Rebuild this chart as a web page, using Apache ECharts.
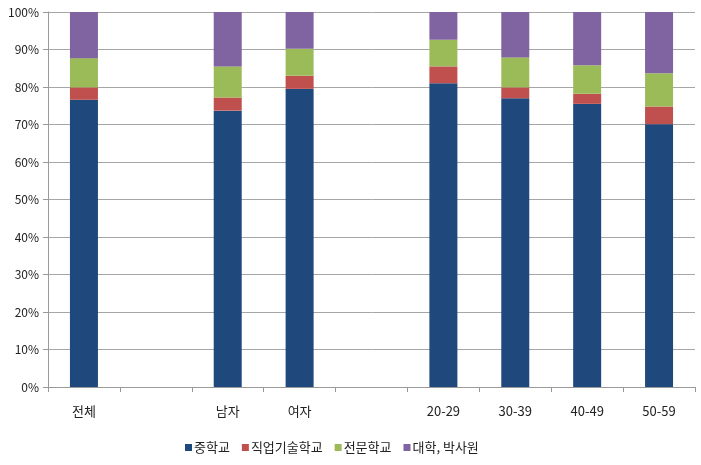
<!DOCTYPE html>
<html><head><meta charset="utf-8">
<script src="https://cdn.jsdelivr.net/npm/echarts@6/dist/echarts.min.js"></script>
<style>html,body{margin:0;padding:0;background:#fff}#c{width:701px;height:465px}</style>
</head><body><div id="c"></div>
<script>
const categories = ['전체', ' ', '남자', '여자', '  ', '20-29', '30-39', '40-49', '50-59'];
const seriesNames = ['중학교', '직업기술학교', '전문학교', '대학, 박사원'];
const middle = [76.6, null, 73.7, 79.5, null, 81.0, 77.0, 75.5, 70.1];
const vocational = [3.3, null, 3.5, 3.5, null, 4.5, 2.9, 2.7, 4.7];
const college = [7.8, null, 8.3, 7.2, null, 7.1, 8.0, 7.6, 8.9];
const university = [12.3, null, 14.5, 9.8, null, 7.4, 12.1, 14.2, 16.3];
const yTicks = [0, 10, 20, 30, 40, 50, 60, 70, 80, 90, 100];

const colors = ['#1F497D', '#C0504D', '#9BBB59', '#8064A2'];
const font = '"Noto Sans CJK KR", "Noto Sans", sans-serif';
const chart = echarts.init(document.getElementById('c'));
const values = [middle, vocational, college, university];
chart.setOption({
  animation: false,
  color: colors,
  textStyle: { fontFamily: font },
  grid: { left: 48, right: 6, top: 12, bottom: 78 },
  legend: {
    bottom: 6, left: 180, icon: 'rect', itemWidth: 7, itemHeight: 7, itemGap: 12,
    textStyle: { fontSize: 13, color: '#222', fontFamily: font, padding: [0, 0, 0, -3] },
    data: seriesNames
  },
  xAxis: {
    type: 'category', data: categories,
    axisLine: { lineStyle: { color: '#9a9a9a' } },
    axisTick: { show: true, length: 5, lineStyle: { color: '#9a9a9a' } },
    axisLabel: { color: '#222', fontSize: 13, margin: 18, interval: 0, fontFamily: font }
  },
  yAxis: {
    type: 'value', min: yTicks[0], max: yTicks[yTicks.length - 1], interval: 10,
    axisLine: { show: true, lineStyle: { color: '#9a9a9a' } },
    axisTick: { show: true, length: 5, lineStyle: { color: '#9a9a9a' } },
    splitLine: { lineStyle: { color: '#a6a6a6' } },
    axisLabel: { formatter: '{value}%', color: '#222', fontSize: 12, margin: 9, fontFamily: font }
  },
  series: seriesNames.map((n, i) => ({
    name: n, type: 'bar', stack: 'total', barWidth: 28, data: values[i]
  }))
});
</script></body></html>
